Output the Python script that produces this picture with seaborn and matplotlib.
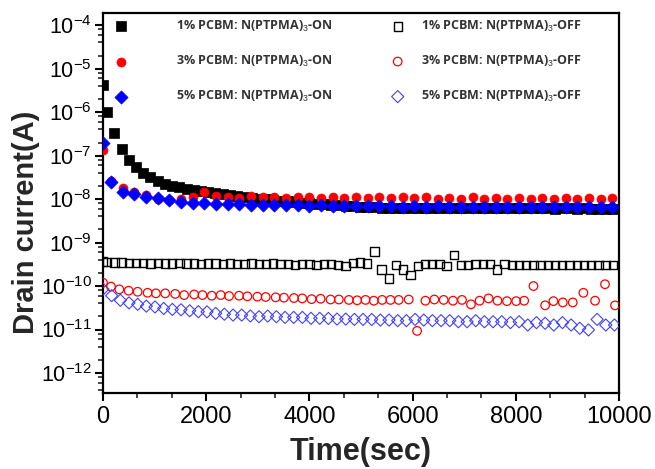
import matplotlib
matplotlib.use("Agg")
import matplotlib.pyplot as plt
import seaborn as sns
from matplotlib.ticker import (LogLocator, AutoMinorLocator, MultipleLocator, FixedLocator,
                               LogFormatterMathtext, NullFormatter)

# ---------------- data ----------------
T_BLACK = [0, 80, 220, 360, 500, 640, 780, 920, 1060, 1200,
           1340, 1480, 1620, 1760, 1900, 2040, 2180, 2320, 2460, 2600,
           2740, 2880, 3020, 3160, 3300, 3440, 3580, 3720, 3860, 4000,
           4140, 4280, 4420, 4560, 4700, 4840, 4980, 5120, 5260, 5400,
           5540, 5680, 5820, 5960, 6100, 6240, 6380, 6520, 6660, 6800,
           6940, 7080, 7220, 7360, 7500, 7640, 7780, 7920, 8060, 8200,
           8340, 8480, 8620, 8760, 8900, 9040, 9180, 9320, 9460, 9600,
           9740, 9880]

ON_1 = [4.2e-6, 1.0e-6, 3.3e-7, 1.4e-7, 7.9e-8, 5.5e-8, 4.0e-8, 3.3e-8, 2.6e-8, 2.2e-8,
        2.0e-8, 1.85e-8, 1.72e-8, 1.6e-8, 1.5e-8, 1.42e-8, 1.35e-8, 1.28e-8, 1.22e-8, 1.17e-8,
        1.12e-8, 1.07e-8, 1.03e-8, 9.9e-9, 9.5e-9, 9.2e-9, 8.9e-9, 8.6e-9, 8.3e-9, 8.0e-9,
        7.8e-9, 7.6e-9, 7.4e-9, 7.2e-9, 7.0e-9, 6.8e-9, 6.6e-9, 6.5e-9, 6.5e-9, 6.4e-9,
        6.4e-9, 6.4e-9, 6.3e-9, 6.3e-9, 6.3e-9, 6.3e-9, 6.2e-9, 6.3e-9, 6.2e-9, 6.2e-9,
        6.2e-9, 6.2e-9, 6.1e-9, 6.2e-9, 6.2e-9, 6.1e-9, 6.2e-9, 6.1e-9, 6.1e-9, 6.2e-9,
        6.1e-9, 6.1e-9, 6.1e-9, 6.0e-9, 6.1e-9, 6.1e-9, 6.0e-9, 6.1e-9, 6.0e-9, 6.0e-9,
        6.0e-9, 6.0e-9]

OFF_1 = [3.7e-10, 3.6e-10, 3.5e-10, 3.5e-10, 3.4e-10, 3.4e-10, 3.4e-10, 3.3e-10, 3.4e-10, 3.3e-10,
         3.3e-10, 3.4e-10, 3.3e-10, 3.3e-10, 3.2e-10, 3.3e-10, 3.3e-10, 3.2e-10, 3.3e-10, 3.2e-10,
         3.2e-10, 3.3e-10, 3.2e-10, 3.2e-10, 3.3e-10, 3.2e-10, 3.2e-10, 3.1e-10, 3.2e-10, 3.2e-10,
         3.1e-10, 3.2e-10, 3.2e-10, 3.1e-10, 2.9e-10, 3.4e-10, 3.5e-10, 3.3e-10, 6.2e-10, 2.4e-10,
         1.5e-10, 3.1e-10, 2.4e-10, 1.8e-10, 2.9e-10, 3.2e-10, 3.2e-10, 3.2e-10, 2.9e-10, 5.1e-10,
         3.1e-10, 3.1e-10, 3.2e-10, 3.2e-10, 3.2e-10, 2.4e-10, 3.2e-10, 3.1e-10, 3.1e-10, 3.1e-10,
         3.1e-10, 3.1e-10, 3.1e-10, 3.1e-10, 3.1e-10, 3.1e-10, 3.1e-10, 3.1e-10, 3.1e-10, 3.1e-10,
         3.1e-10, 3.1e-10]

T_ON = [0, 155, 381, 607, 833, 1059, 1285, 1511, 1737, 1963,
        2189, 2415, 2641, 2867, 3093, 3319, 3545, 3771, 3997, 4223,
        4449, 4675, 4901, 5127, 5353, 5579, 5805, 6031, 6257, 6483,
        6709, 6935, 7161, 7387, 7613, 7839, 8065, 8291, 8517, 8743,
        8969, 9195, 9421, 9647, 9873]

ON_3 = [1.35e-7, 2.6e-8, 1.8e-8, 1.45e-8, 1.25e-8, 1.0e-8, 9.5e-9, 9.8e-9, 1.12e-8, 1.47e-8,
        1.17e-8, 1.12e-8, 1.07e-8, 1.17e-8, 1.1e-8, 1.12e-8, 1.08e-8, 1.12e-8, 1.1e-8, 1.07e-8,
        1.12e-8, 1.08e-8, 1.1e-8, 1.06e-8, 1.12e-8, 1.05e-8, 1.1e-8, 1.04e-8, 1.1e-8, 1.03e-8,
        1.08e-8, 1.02e-8, 1.1e-8, 1.03e-8, 1.07e-8, 1.02e-8, 1.08e-8, 1.0e-8, 1.06e-8, 1.0e-8,
        1.07e-8, 1.0e-8, 1.06e-8, 1.0e-8, 1.05e-8]

ON_5 = [1.95e-7, 2.45e-8, 1.47e-8, 1.29e-8, 1.12e-8, 1.04e-8, 9.6e-9, 8.7e-9, 8.3e-9, 8.0e-9,
        7.9e-9, 7.7e-9, 7.6e-9, 7.5e-9, 7.4e-9, 7.5e-9, 7.2e-9, 7.3e-9, 7.1e-9, 7.2e-9,
        7.0e-9, 6.9e-9, 7.0e-9, 6.8e-9, 6.9e-9, 6.8e-9, 6.7e-9, 6.8e-9, 6.7e-9, 6.8e-9,
        6.6e-9, 6.7e-9, 6.6e-9, 6.7e-9, 6.6e-9, 6.5e-9, 6.6e-9, 6.5e-9, 6.6e-9, 6.5e-9,
        6.6e-9, 6.5e-9, 6.6e-9, 6.5e-9, 6.6e-9]

T_OFF3 = [0, 155, 316, 497, 671, 864, 1025, 1206, 1399, 1573,
          1767, 1928, 2108, 2282, 2443, 2637, 2798, 2992, 3153, 3346,
          3507, 3701, 3862, 4043, 4217, 4410, 4571, 4765, 4926, 5087,
          5248, 5410, 5571, 5731, 5925, 6087, 6248, 6422, 6602, 6783,
          6957, 7131, 7298, 7472, 7646, 7828, 8008, 8162, 8343, 8569,
          8729, 8911, 9104, 9310, 9536, 9729, 9923]

OFF_3 = [1.19e-10, 9.7e-11, 8.4e-11, 7.8e-11, 7.4e-11, 7.0e-11, 6.8e-11, 6.8e-11, 6.6e-11, 6.2e-11,
         6.4e-11, 6.2e-11, 6.0e-11, 6.2e-11, 5.9e-11, 6.0e-11, 5.8e-11, 5.7e-11, 5.6e-11, 5.5e-11,
         5.4e-11, 5.3e-11, 5.2e-11, 5.0e-11, 5.1e-11, 4.9e-11, 4.9e-11, 4.8e-11, 4.7e-11, 4.8e-11,
         4.6e-11, 4.8e-11, 4.8e-11, 4.8e-11, 4.9e-11, 9.3e-12, 4.6e-11, 4.9e-11, 4.8e-11, 4.6e-11,
         4.8e-11, 3.8e-11, 4.6e-11, 5.2e-11, 4.6e-11, 4.5e-11, 4.5e-11, 4.6e-11, 1.0e-10, 3.6e-11,
         4.5e-11, 4.2e-11, 4.2e-11, 7.0e-11, 4.6e-11, 1.1e-10, 3.6e-11]

T_OFF5 = [0, 168, 336, 504, 672, 840, 1008, 1176, 1344, 1512,
          1680, 1848, 2016, 2184, 2352, 2520, 2688, 2856, 3024, 3192,
          3360, 3528, 3696, 3864, 4032, 4200, 4368, 4536, 4704, 4872,
          5040, 5208, 5376, 5544, 5712, 5880, 6048, 6216, 6384, 6552,
          6720, 6888, 7056, 7224, 7392, 7560, 7728, 7896, 8064, 8232,
          8400, 8568, 8736, 8904, 9072, 9240, 9408, 9576, 9744, 9912]

OFF_5 = [8.5e-11, 6.0e-11, 4.7e-11, 4.1e-11, 3.8e-11, 3.45e-11, 3.3e-11, 3.05e-11, 2.9e-11, 2.85e-11,
         2.7e-11, 2.57e-11, 2.55e-11, 2.35e-11, 2.25e-11, 2.15e-11, 2.15e-11, 2.05e-11, 1.97e-11, 2.04e-11,
         1.97e-11, 1.9e-11, 1.9e-11, 1.9e-11, 1.81e-11, 1.81e-11, 1.8e-11, 1.74e-11, 1.74e-11, 1.71e-11,
         1.71e-11, 1.7e-11, 1.65e-11, 1.65e-11, 1.6e-11, 1.6e-11, 1.71e-11, 1.65e-11, 1.6e-11, 1.6e-11,
         1.6e-11, 1.51e-11, 1.51e-11, 1.6e-11, 1.51e-11, 1.51e-11, 1.51e-11, 1.44e-11, 1.51e-11, 1.27e-11,
         1.44e-11, 1.39e-11, 1.27e-11, 1.44e-11, 1.27e-11, 1.07e-11, 9.8e-12, 1.71e-11, 1.27e-11, 1.27e-11]

Y_TICKS = [1e-12, 1e-11, 1e-10, 1e-9, 1e-8, 1e-7, 1e-6, 1e-5, 1e-4]

LABELS_ON = [r"1% PCBM: N(PTPMA)$_3$-ON", r"3% PCBM: N(PTPMA)$_3$-ON", r"5% PCBM: N(PTPMA)$_3$-ON"]
LABELS_OFF = [r"1% PCBM: N(PTPMA)$_3$-OFF", r"3% PCBM: N(PTPMA)$_3$-OFF", r"5% PCBM: N(PTPMA)$_3$-OFF"]

# ---------------- style ----------------
sns.set_style("ticks")
plt.rcParams["font.family"] = ["Liberation Sans", "DejaVu Sans"]
plt.rcParams["mathtext.fontset"] = "custom"
plt.rcParams["mathtext.rm"] = "Liberation Sans"
plt.rcParams["mathtext.it"] = "Liberation Sans:italic"
plt.rcParams["mathtext.bf"] = "Liberation Sans:bold"

fig = plt.figure(figsize=(6.55, 4.69), dpi=100)
ax = fig.add_axes([103 / 655, 1 - 393 / 469, (619 - 103) / 655, (393 - 13) / 469])

off_specs = [
    (T_BLACK, OFF_1, "s", "#000000", 36, 1.0, LABELS_OFF[0]),
    (T_OFF3, OFF_3, "o", "#ff0000", 38, 0.9, LABELS_OFF[1]),
    (T_OFF5, OFF_5, "D", "#4040ff", 38, 0.8, LABELS_OFF[2]),
]
on_specs = [
    (T_BLACK, ON_1, "s", "#000000", 42, LABELS_ON[0]),
    (T_ON, ON_3, "o", "#ff0000", 42, LABELS_ON[1]),
    (T_ON, ON_5, "D", "#0000ff", 45, LABELS_ON[2]),
]

for t, v, m, c, s, lab in on_specs:
    sns.scatterplot(x=t, y=v, ax=ax, marker=m, s=s, facecolor=c, edgecolor=c,
                    linewidth=0.5, label=lab, zorder=3)
for t, v, m, c, s, lw, lab in off_specs:
    sns.scatterplot(x=t, y=v, ax=ax, marker=m, s=s, facecolor="none", edgecolor=c,
                    linewidth=lw, label=lab, zorder=3)

ax.set_yscale("log")
ax.set_xlim(0, 10000)
ax.set_ylim(10 ** -12.46, 10 ** -3.72)

ax.xaxis.set_major_locator(MultipleLocator(2000))
ax.xaxis.set_minor_locator(AutoMinorLocator(3))
ax.yaxis.set_major_locator(FixedLocator(Y_TICKS))
ax.yaxis.set_minor_locator(LogLocator(base=10, subs=(2, 4, 6, 8), numticks=20))
ax.yaxis.set_major_formatter(LogFormatterMathtext())
ax.yaxis.set_minor_formatter(NullFormatter())

for sp in ax.spines.values():
    sp.set_linewidth(1.6)
    sp.set_color("black")
    sp.set_visible(True)
ax.tick_params(which="major", direction="out", length=6, width=1.5, colors="black",
               top=False, right=False, pad=3)
ax.tick_params(axis="x", which="major", labelsize=17)
ax.tick_params(axis="y", which="major", labelsize=15.5, pad=2)
ax.tick_params(which="minor", direction="out", length=3.5, width=1.2, top=False, right=False)

ax.set_xlabel("Time(sec)", fontsize=22, fontweight="bold", labelpad=7)
ax.set_ylabel("Drain current(A)", fontsize=21, fontweight="bold")
ax.yaxis.set_label_coords(-0.123, 0.45)

handles, labels = ax.get_legend_handles_labels()
lab_to_h = dict(zip(labels, handles))
leg_font = {"family": ["Open Sans", "DejaVu Sans"], "weight": "bold", "size": 9}
leg1 = ax.legend([lab_to_h[l] for l in LABELS_ON], LABELS_ON, loc="upper left",
                 bbox_to_anchor=(0.022, 0.985), frameon=False, prop=leg_font,
                 handlelength=1.0, handletextpad=3.9, labelspacing=1.6,
                 borderpad=0, borderaxespad=0, labelcolor="#333333")
ax.add_artist(leg1)
leg2 = ax.legend([lab_to_h[l] for l in LABELS_OFF], LABELS_OFF, loc="upper left",
                 bbox_to_anchor=(0.559, 0.985), frameon=False, prop=leg_font,
                 handlelength=1.0, handletextpad=1.4, labelspacing=1.6,
                 borderpad=0, borderaxespad=0, labelcolor="#333333")

fig.savefig("out.png", dpi=100)
